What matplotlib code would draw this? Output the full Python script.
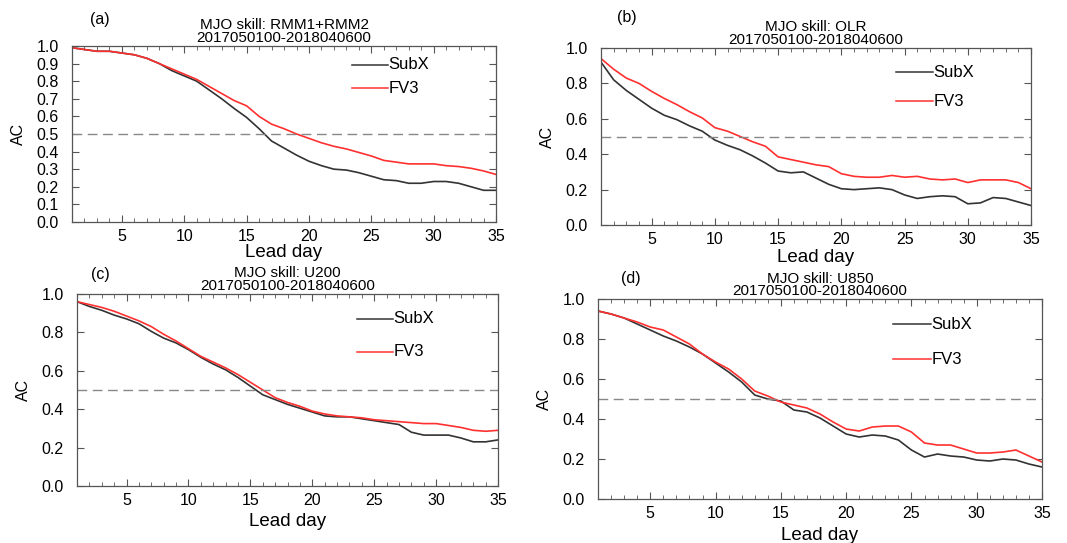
import matplotlib
matplotlib.use("Agg")
import matplotlib.pyplot as plt
from matplotlib.ticker import MultipleLocator
import numpy as np

plt.rcParams['font.family'] = ['Liberation Sans', 'DejaVu Sans']

lead_days = np.arange(1, 36)

# (a) RMM1+RMM2
subx_rmm = [0.99, 0.98, 0.97, 0.97, 0.96, 0.95, 0.93, 0.90, 0.86, 0.83,
            0.80, 0.75, 0.70, 0.645, 0.594, 0.53, 0.46, 0.42, 0.38, 0.345,
            0.32, 0.30, 0.295, 0.28, 0.26, 0.24, 0.235, 0.22, 0.22, 0.23,
            0.23, 0.22, 0.20, 0.18, 0.18]
fv3_rmm = [0.99, 0.98, 0.97, 0.97, 0.96, 0.95, 0.93, 0.90, 0.87, 0.84,
           0.81, 0.77, 0.73, 0.69, 0.66, 0.60, 0.556, 0.53, 0.50, 0.475,
           0.45, 0.43, 0.415, 0.395, 0.375, 0.35, 0.34, 0.33, 0.33, 0.33,
           0.32, 0.315, 0.305, 0.29, 0.27]

# (b) OLR
subx_olr = [0.92, 0.82, 0.76, 0.71, 0.66, 0.62, 0.595, 0.56, 0.53, 0.48,
            0.45, 0.425, 0.39, 0.35, 0.305, 0.295, 0.30, 0.265, 0.23, 0.205,
            0.20, 0.205, 0.21, 0.20, 0.17, 0.15, 0.16, 0.165, 0.16, 0.12,
            0.125, 0.155, 0.15, 0.13, 0.11]
fv3_olr = [0.94, 0.88, 0.83, 0.80, 0.755, 0.715, 0.68, 0.64, 0.605, 0.55,
           0.53, 0.50, 0.47, 0.445, 0.385, 0.37, 0.355, 0.34, 0.33, 0.29,
           0.275, 0.27, 0.27, 0.28, 0.27, 0.275, 0.26, 0.255, 0.26, 0.24,
           0.255, 0.255, 0.255, 0.24, 0.205]

# (c) U200
subx_u200 = [0.96, 0.935, 0.915, 0.89, 0.87, 0.845, 0.805, 0.77, 0.745, 0.71,
             0.67, 0.635, 0.605, 0.565, 0.52, 0.475, 0.45, 0.425, 0.405, 0.385,
             0.365, 0.36, 0.36, 0.35, 0.34, 0.33, 0.32, 0.28, 0.265, 0.265,
             0.265, 0.25, 0.23, 0.23, 0.24]
fv3_u200 = [0.96, 0.945, 0.93, 0.91, 0.885, 0.86, 0.83, 0.79, 0.755, 0.715,
            0.675, 0.645, 0.615, 0.58, 0.54, 0.50, 0.46, 0.435, 0.415, 0.39,
            0.375, 0.365, 0.36, 0.355, 0.345, 0.34, 0.335, 0.33, 0.325, 0.325,
            0.315, 0.305, 0.29, 0.285, 0.29]

# (d) U850
subx_u850 = [0.94, 0.925, 0.905, 0.875, 0.845, 0.815, 0.79, 0.76, 0.725, 0.68,
             0.635, 0.585, 0.52, 0.50, 0.49, 0.445, 0.435, 0.405, 0.365, 0.325,
             0.31, 0.32, 0.315, 0.295, 0.245, 0.21, 0.225, 0.215, 0.21, 0.195,
             0.19, 0.20, 0.195, 0.175, 0.16]
fv3_u850 = [0.94, 0.925, 0.905, 0.885, 0.86, 0.845, 0.81, 0.775, 0.725, 0.685,
            0.65, 0.60, 0.54, 0.515, 0.485, 0.47, 0.455, 0.425, 0.385, 0.35,
            0.34, 0.36, 0.365, 0.365, 0.335, 0.28, 0.27, 0.27, 0.25, 0.23,
            0.23, 0.235, 0.245, 0.215, 0.185]

panel_tags = ["(a)", "(b)", "(c)", "(d)"]
variables = ["RMM1+RMM2", "OLR", "U200", "U850"]
period = "2017050100-2018040600"

BLACK = "#333333"
RED = "#ff3030"
W, H = 1067, 543


def draw_panel(fig, rect, subx, fv3, tag, var, ystep, tag_xy, leg_xy, leg_gap, xlab_off):
    ax = fig.add_axes(rect)
    w_px, h_px = rect[2] * W, rect[3] * H
    ax.plot(lead_days, subx, color=BLACK, lw=1.2)
    ax.plot(lead_days, fv3, color=RED, lw=1.2)
    ax.axhline(0.5, color="#888888", lw=1.0, ls=(0, (7, 4)))
    ax.set_xlim(1, 35)
    ax.set_ylim(0, 1)
    ax.xaxis.set_major_locator(MultipleLocator(5))
    ax.xaxis.set_minor_locator(MultipleLocator(1))
    ax.yaxis.set_major_locator(MultipleLocator(ystep))
    ax.tick_params(which="both", direction="in", top=True, right=True,
                   labelsize=11.5, color="#555555")
    ax.tick_params(which="major", length=5, width=0.8)
    ax.tick_params(which="minor", length=3, width=0.6)
    ax.tick_params(axis="x", which="major", pad=5)
    ax.tick_params(axis="y", which="major", pad=9.5)
    ax.yaxis.set_major_formatter(plt.FormatStrFormatter("%.1f"))
    for sp in ax.spines.values():
        sp.set_color("#555555")
        sp.set_linewidth(0.9)
    ax.set_xlabel("Lead day", fontsize=13.5, va="center")
    ax.xaxis.set_label_coords(0.5, -xlab_off / h_px)
    ax.set_ylabel("AC", fontsize=11.5, va="center")
    ax.yaxis.set_label_coords(-54 / w_px, 0.5)
    ax.set_title(f"MJO skill: {var}\n{period}", fontsize=11,
                 linespacing=0.85, pad=3)
    ax.text(tag_xy[0], tag_xy[1], tag, transform=ax.transAxes, fontsize=11.5,
            ha="left", va="center")
    # legend drawn as short lines with labels right after
    x0, y0 = leg_xy
    for i, (lbl, col) in enumerate([("SubX", BLACK), ("FV3", RED)]):
        yy = y0 - i * leg_gap
        ax.plot([x0, x0 + 0.085], [yy, yy], transform=ax.transAxes,
                color=col, lw=1.1, clip_on=False)
        ax.text(x0 + 0.087, yy, lbl, transform=ax.transAxes, fontsize=12,
                ha="left", va="center")
    return ax


fig = plt.figure(figsize=(W / 100, H / 100), dpi=100)

draw_panel(fig, [0.0675, 0.5912, 0.3974, 0.3241], subx_rmm, fv3_rmm,
           panel_tags[0], variables[0], 0.1, (0.042, 1.148), (0.66, 0.892), 0.131, 31)
draw_panel(fig, [0.5633, 0.5856, 0.4030, 0.3260], subx_olr, fv3_olr,
           panel_tags[1], variables[1], 0.2, (0.037, 1.17), (0.686, 0.864), 0.164, 32)
draw_panel(fig, [0.0722, 0.1050, 0.3946, 0.3536], subx_u200, fv3_u200,
           panel_tags[2], variables[2], 0.2, (0.033, 1.10), (0.665, 0.87), 0.172, 36)
draw_panel(fig, [0.5605, 0.0810, 0.4161, 0.3683], subx_u850, fv3_u850,
           panel_tags[3], variables[3], 0.2, (0.052, 1.105), (0.664, 0.875), 0.175, 36)

fig.savefig("out.png", dpi=100)
